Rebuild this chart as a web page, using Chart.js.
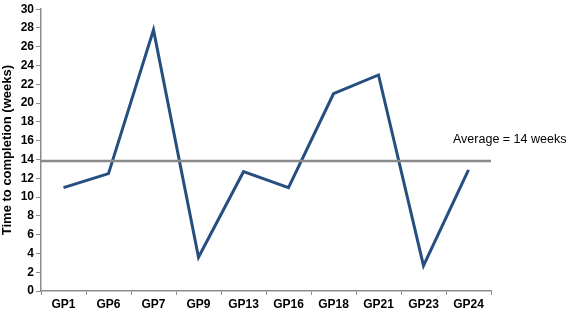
<!DOCTYPE html>
<html lang="en">
<head>
  <meta charset="UTF-8" />
  <title>Time to completion</title>
  <script src="https://cdn.jsdelivr.net/npm/chart.js"></script>
  <style>
    html, body { margin: 0; padding: 0; background: #fff; }
    #wrap { width: 567px; height: 312px; }
  </style>
</head>
<body>
  <div id="wrap"><canvas id="chart"></canvas></div>
  <script>
    // data
    const practices = ['GP1', 'GP6', 'GP7', 'GP9', 'GP13', 'GP16', 'GP18', 'GP21', 'GP23', 'GP24'];
    const weeks = [11.0, 12.5, 27.8, 3.6, 12.7, 11.0, 21.0, 23.0, 2.7, 12.9];
    const averageWeeks = 13.85;
    const averageLabel = 'Average = 14 weeks';
    const yTicks = [0, 2, 4, 6, 8, 10, 12, 14, 16, 18, 20, 22, 24, 26, 28, 30];

    const FONT = '"Liberation Sans", Arial, sans-serif';
    const AXIS_GREY = '#8c8c8c';

    // horizontal average line + its label
    const averageLine = {
      id: 'averageLine',
      afterDatasetsDraw(chart) {
        const { ctx, chartArea, scales } = chart;
        const y = scales.y.getPixelForValue(averageWeeks);
        ctx.save();
        ctx.strokeStyle = '#8a8a8a';
        ctx.lineWidth = 2.5;
        ctx.beginPath();
        ctx.moveTo(chartArea.left, y);
        ctx.lineTo(chartArea.right, y);
        ctx.stroke();
        ctx.fillStyle = '#000';
        ctx.font = '12.5px ' + FONT;
        ctx.textAlign = 'left';
        ctx.textBaseline = 'middle';
        ctx.fillText(averageLabel, 453, y - 21);
        ctx.restore();
      }
    };

    new Chart(document.getElementById('chart'), {
      type: 'line',
      data: {
        labels: practices,
        datasets: [{
          data: weeks,
          borderColor: '#264f80',
          borderWidth: 3,
          pointRadius: 0,
          tension: 0,
          fill: false
        }]
      },
      options: {
        responsive: true,
        maintainAspectRatio: false,
        animation: false,
        layout: { padding: { left: 0, right: 76, top: 5, bottom: 0 } },
        plugins: {
          legend: { display: false },
          tooltip: { enabled: false }
        },
        scales: {
          x: {
            offset: true,
            grid: {
              offset: true,
              drawOnChartArea: false,
              tickLength: 4,
              color: AXIS_GREY
            },
            border: { color: AXIS_GREY, width: 1.5 },
            ticks: {
              color: '#000',
              padding: 2,
              maxRotation: 0,
              font: { family: FONT, size: 12, weight: 'bold' }
            },
            afterFit(scale) { scale.height = 21; }
          },
          y: {
            min: 0,
            max: 30,
            afterBuildTicks(scale) {
              scale.ticks = yTicks.map(v => ({ value: v }));
            },
            grid: {
              drawOnChartArea: false,
              tickLength: 5,
              color: AXIS_GREY
            },
            border: { color: AXIS_GREY, width: 1.5 },
            ticks: {
              color: '#000',
              padding: 2,
              font: { family: FONT, size: 12, weight: 'bold' }
            },
            title: {
              display: true,
              text: 'Time to completion (weeks)',
              color: '#000',
              padding: { top: 0, bottom: 0 },
              font: { family: FONT, size: 13, weight: 'bold' }
            },
            afterFit(scale) { scale.width = 41; }
          }
        }
      },
      plugins: [averageLine]
    });
  </script>
</body>
</html>
